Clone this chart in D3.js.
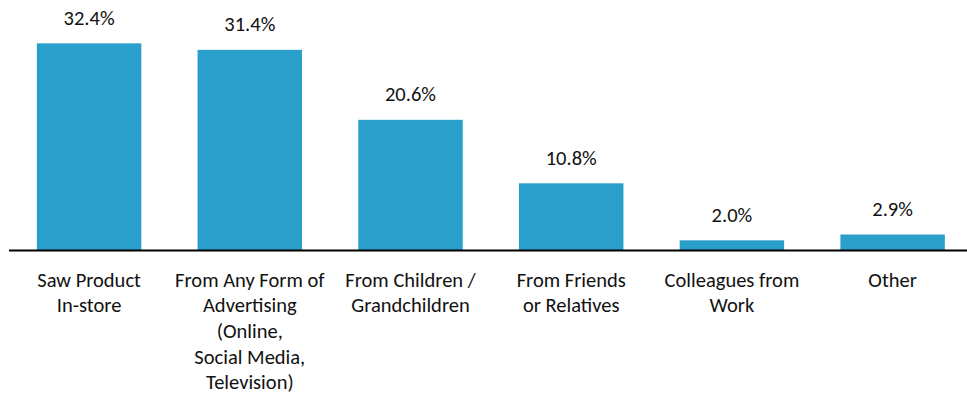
<!DOCTYPE html>
<html><head><meta charset="utf-8">
<script src="https://cdn.jsdelivr.net/npm/d3@7"></script>
<style>body{margin:0;background:#fff}svg{display:block}text{font-family:Calibri,Carlito,Lato,sans-serif;fill:#111}</style>
</head><body><svg id="c" width="967" height="395"></svg>
<script>
const categories = ["Saw Product In-store","From Any Form of Advertising (Online, Social Media, Television)","From Children / Grandchildren","From Friends or Relatives","Colleagues from Work","Other"];
const labelLines = [["Saw Product","In-store"],["From Any Form of","Advertising","(Online,","Social Media,","Television)"],["From Children /","Grandchildren"],["From Friends","or Relatives"],["Colleagues from","Work"],["Other"]];
const values = [32.4,31.4,20.6,10.8,2.0,2.9];
const valueLabels = ["32.4%","31.4%","20.6%","10.8%","2.0%","2.9%"];

const svg = d3.select("#c");
const x = d3.scaleBand().domain(categories).range([18.7,963]).paddingInner(0.35).paddingOuter(0.113);
const y = d3.scaleLinear().domain([0,35]).range([253.3,253.3-35*6.48]);
const axisY = 250.5;

svg.selectAll("rect.bar").data(values).join("rect").attr("class","bar")
  .attr("x",(d,i)=>x(categories[i])).attr("width",x.bandwidth())
  .attr("y",d=>y(d)).attr("height",d=>axisY-y(d)).attr("fill","#2a9fcb");

svg.selectAll("text.val").data(values).join("text").attr("class","val")
  .attr("x",(d,i)=>x(categories[i])+x.bandwidth()/2).attr("y",d=>y(d)-18.5)
  .attr("text-anchor","middle").attr("font-size",20.5).text((d,i)=>valueLabels[i]);

svg.append("line").attr("x1",9).attr("x2",967).attr("y1",axisY).attr("y2",axisY)
  .attr("stroke","#000").attr("stroke-width",2);

const g = svg.selectAll("text.cat").data(categories).join("text").attr("class","cat")
  .attr("text-anchor","middle").attr("font-size",20.5)
  .attr("transform",d=>`translate(${x(d)+x.bandwidth()/2},286.5)`);
g.selectAll("tspan").data((d,i)=>labelLines[i]).join("tspan")
  .attr("x",0).attr("y",(d,j)=>j*25.7).text(d=>d);
</script></body></html>
